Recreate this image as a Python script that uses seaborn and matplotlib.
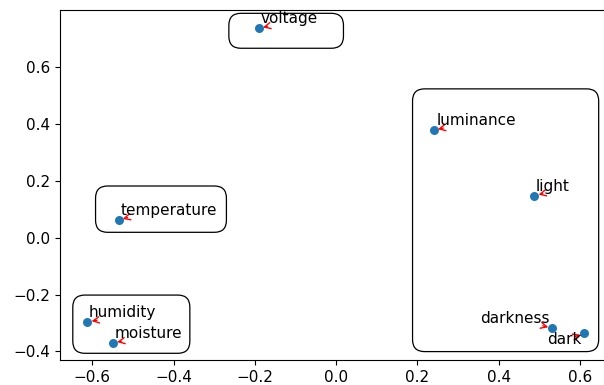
import matplotlib
matplotlib.use("Agg")
import matplotlib.pyplot as plt
from matplotlib.patches import FancyBboxPatch
import seaborn as sns
import pandas as pd

# word embedding coordinates (2D projection)
words = ["voltage", "luminance", "light", "temperature",
         "humidity", "moisture", "darkness", "dark"]
x_vals = [-0.190, 0.240, 0.488, -0.535, -0.612, -0.549, 0.532, 0.611]
y_vals = [0.737, 0.379, 0.148, 0.062, -0.296, -0.370, -0.319, -0.337]

# groups that get a rounded box around them
groups = [["voltage"], ["temperature"], ["humidity", "moisture"],
          ["luminance", "light", "darkness", "dark"]]

df = pd.DataFrame({"word": words, "x": x_vals, "y": y_vals})

# label offsets in pixels, alignment, arrow start on the text box
label_pos = {
    "voltage": ((1.5, 5), "left", (0.12, 0)),
    "luminance": ((2.5, 5), "left", (0.09, 0)),
    "light": ((1.5, 5), "left", (0.2, 0)),
    "temperature": ((2, 5.5), "left", (0.07, 0)),
    "humidity": ((1.5, 4.5), "left", (0.12, 0)),
    "moisture": ((1.5, 4.5), "left", (0.1, 0)),
    "darkness": ((-2.5, 5.5), "right", (0.9, 0)),
    "dark": ((-2.5, -10.5), "right", (0.8, 0.7)),
}

# box extents (x0, x1, y0, y1) around each group, in data units
box_extents = [(-0.264, 0.018, 0.667, 0.790),
               (-0.592, -0.270, 0.019, 0.182),
               (-0.648, -0.360, -0.407, -0.202),
               (0.188, 0.646, -0.401, 0.524)]

plt.rcParams["font.size"] = 11

fig = plt.figure(figsize=(6.04, 3.85), dpi=100)
ax = fig.add_axes([60 / 604, 25 / 385, 549 / 604, 350 / 385])

sns.scatterplot(data=df, x="x", y="y", color="#1f77b4", s=42,
                linewidth=0, ax=ax, zorder=3)

for _, row in df.iterrows():
    offset, ha, rel = label_pos[row["word"]]
    ax.annotate(row["word"], xy=(row["x"], row["y"]), xytext=offset,
                textcoords="offset pixels", ha=ha, va="baseline",
                fontsize=11, color="black",
                arrowprops=dict(arrowstyle="->", color="red", lw=1,
                                relpos=rel, shrinkA=0, shrinkB=3))

x_scale = 406.4
y_scale = 284.0
radius = 12 / x_scale
for (x0, x1, y0, y1), grp in zip(box_extents, groups):
    box = FancyBboxPatch((x0, y0), x1 - x0, y1 - y0,
                         boxstyle="round,pad=0,rounding_size=%f" % radius,
                         mutation_aspect=x_scale / y_scale,
                         facecolor="none", edgecolor="black", lw=0.9,
                         clip_on=False)
    ax.add_patch(box)

ax.set_xlim(-0.6795, 0.6714)
ax.set_ylim(-0.4306, 0.8017)
ax.set_xticks([-0.6, -0.4, -0.2, 0.0, 0.2, 0.4, 0.6])
ax.set_yticks([-0.4, -0.2, 0.0, 0.2, 0.4, 0.6])
ax.set_xlabel("")
ax.set_ylabel("")

fig.savefig("out.png", dpi=100)
